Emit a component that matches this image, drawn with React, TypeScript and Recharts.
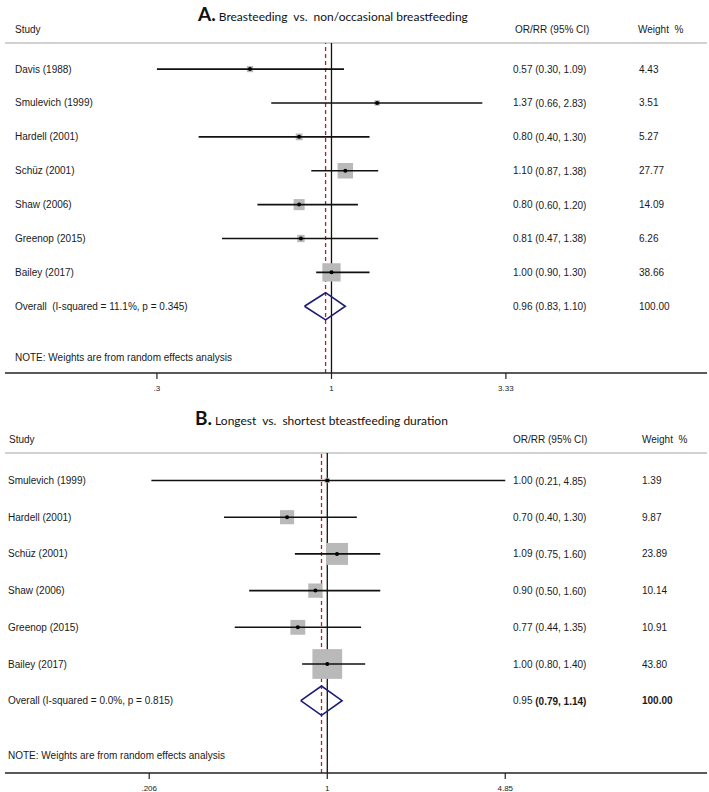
import React from 'react'
import { ScatterChart, Scatter, XAxis, YAxis, ReferenceLine } from 'recharts'

// Panel A: breastfeeding vs non/occasional breastfeeding
const studiesA = ['Davis (1988)', 'Smulevich (1999)', 'Hardell (2001)', 'Schüz (2001)', 'Shaw (2006)', 'Greenop (2015)', 'Bailey (2017)']
const estA = [0.57, 1.37, 0.8, 1.1, 0.8, 0.81, 1.0]
const lowA = [0.3, 0.66, 0.4, 0.87, 0.6, 0.47, 0.9]
const highA = [1.09, 2.83, 1.3, 1.38, 1.2, 1.38, 1.3]
const weightA = [4.43, 3.51, 5.27, 27.77, 14.09, 6.26, 38.66]
const overallA = [0.96, 0.83, 1.1]
const overallLabelA = 'Overall  (I-squared = 11.1%, p = 0.345)'
const ticksA = [0.3, 1, 3.33]
const tickLabelsA = ['.3', '1', '3.33']

// Panel B: longest vs shortest duration
const studiesB = ['Smulevich (1999)', 'Hardell (2001)', 'Schüz (2001)', 'Shaw (2006)', 'Greenop (2015)', 'Bailey (2017)']
const estB = [1.0, 0.7, 1.09, 0.9, 0.77, 1.0]
const lowB = [0.21, 0.4, 0.75, 0.5, 0.44, 0.8]
const highB = [4.85, 1.3, 1.6, 1.6, 1.35, 1.4]
const weightB = [1.39, 9.87, 23.89, 10.14, 10.91, 43.8]
const overallB = [0.95, 0.79, 1.14]
const overallLabelB = 'Overall (I-squared = 0.0%, p = 0.815)'
const ticksB = [0.206, 1, 4.85]
const tickLabelsB = ['.206', '1', '4.85']

const NOTE = 'NOTE: Weights are from random effects analysis'
const fmt = (v: number) => v.toFixed(2)
const FONT = 'Arial, "Liberation Sans", sans-serif'

type PanelProps = {
  studies: string[]
  est: number[]
  low: number[]
  high: number[]
  weight: number[]
  overall: number[]
  overallLabel: string
  ticks: number[]
  tickLabels: string[]
  xDomain: [number, number]
  yDomain: [number, number]
  height: number
  margin: { top: number; right: number; bottom: number; left: number }
  axisHeight: number
  boxScale: number
  labelX: number
  weightX: number
  boldOverall?: boolean
}

function ForestPanel(p: PanelProps) {
  const n = p.studies.length
  const points = p.studies.map((s, i) => ({ x: p.est[i], y: i, w: p.weight[i] }))
  const textRows = [
    ...p.studies.map((s, i) => ({
      x: 1, y: i, label: s,
      ci: `${fmt(p.est[i])} (${fmt(p.low[i])}, ${fmt(p.high[i])})`,
      w: fmt(p.weight[i]), overall: false,
    })),
    {
      x: 1, y: n, label: p.overallLabel,
      ci: `${fmt(p.overall[0])} (${fmt(p.overall[1])}, ${fmt(p.overall[2])})`,
      w: '100.00', overall: true,
    },
    { x: 1, y: n + 1.5, label: NOTE, ci: '', w: '', overall: false },
  ]
  const diamond = [
    { x: p.overall[1], y: n },
    { x: p.overall[0], y: n - 0.4 },
    { x: p.overall[2], y: n },
    { x: p.overall[0], y: n + 0.4 },
    { x: p.overall[1], y: n },
  ]

  return (
    <ScatterChart width={709} height={p.height} margin={p.margin}>
      <XAxis
        type="number"
        dataKey="x"
        scale="log"
        domain={p.xDomain}
        allowDataOverflow
        ticks={p.ticks}
        tickFormatter={(v) => p.tickLabels[p.ticks.indexOf(v)] ?? String(v)}
        height={p.axisHeight}
        tick={{ fontSize: 8, fill: '#222', fontFamily: FONT }}
        tickSize={6}
        tickMargin={6}
        axisLine={{ stroke: '#222', strokeWidth: 1.3 }}
        tickLine={{ stroke: '#222', strokeWidth: 1.2 }}
      />
      <YAxis type="number" dataKey="y" domain={p.yDomain} reversed hide allowDataOverflow />
      <ReferenceLine y={p.yDomain[0]} stroke="#d2d2d2" strokeWidth={2} />
      <ReferenceLine x={1} stroke="#111" strokeWidth={1.3} />
      <ReferenceLine x={p.overall[0]} stroke="#b22222" strokeWidth={1.3} strokeDasharray="4 3" />
      <Scatter
        data={points}
        isAnimationActive={false}
        shape={(props: any) => {
          const s = p.boxScale * Math.sqrt(props.payload.w)
          return <rect x={props.cx - s / 2} y={props.cy - s / 2} width={s} height={s} fill="#b9b9b9" />
        }}
      />
      {p.studies.map((s, i) => (
        <Scatter
          key={s}
          data={[{ x: p.low[i], y: i }, { x: p.high[i], y: i }]}
          isAnimationActive={false}
          line={{ stroke: '#111', strokeWidth: 1.6 }}
          shape={() => <g />}
        />
      ))}
      <Scatter
        data={points}
        isAnimationActive={false}
        shape={(props: any) => <circle cx={props.cx} cy={props.cy} r={2} fill="#000" />}
      />
      <Scatter
        data={diamond}
        isAnimationActive={false}
        line={{ stroke: '#1c1c78', strokeWidth: 1.6 }}
        shape={() => <g />}
      />
      <Scatter
        data={textRows}
        isAnimationActive={false}
        shape={(props: any) => {
          const r = props.payload
          const bold = p.boldOverall && r.overall
          const ciParts = r.ci.split(' (')
          return (
            <g fontFamily={FONT} fontSize={10} fill="#1a1a1a">
              <text x={p.labelX} y={props.cy} dominantBaseline="central" style={{ whiteSpace: 'pre' }}>{r.label}</text>
              {r.ci && (
                <text x={513} y={props.cy} dominantBaseline="central">
                  {ciParts[0]}
                  <tspan fontWeight={bold ? 'bold' : 'normal'}>{' (' + ciParts[1]}</tspan>
                </text>
              )}
              {r.w && (
                <text x={p.weightX} y={props.cy} dominantBaseline="central" fontWeight={bold ? 'bold' : 'normal'}>{r.w}</text>
              )}
            </g>
          )
        }}
      />
    </ScatterChart>
  )
}

const headStyle: React.CSSProperties = {
  position: 'absolute', fontFamily: FONT, fontSize: 10, lineHeight: '12px', color: '#1a1a1a', whiteSpace: 'pre',
}
const titleStyle: React.CSSProperties = {
  position: 'absolute', fontFamily: 'Lato, "Open Sans", sans-serif', fontSize: 12, color: '#111', whiteSpace: 'pre', lineHeight: '22px',
}

export default function App() {
  return (
    <div style={{ position: 'absolute', left: 0, top: 0, width: 709, height: 792, background: '#fff' }}>
      <div style={{ ...titleStyle, left: 198, top: 3 }}>
        <span style={{ fontSize: 19, fontWeight: 700 }}>A.</span> Breasteeding  vs.  non/occasional breastfeeding
      </div>
      <div style={{ ...headStyle, left: 15, top: 24 }}>Study</div>
      <div style={{ ...headStyle, left: 515, top: 24 }}>OR/RR (95% CI)</div>
      <div style={{ ...headStyle, left: 638, top: 24 }}>Weight  %</div>
      <div style={{ position: 'absolute', left: 0, top: 0 }}>
        <ForestPanel
          studies={studiesA} est={estA} low={lowA} high={highA} weight={weightA}
          overall={overallA} overallLabel={overallLabelA}
          ticks={ticksA} tickLabels={tickLabelsA}
          xDomain={[0.1052, 13.33]} yDomain={[-0.77, 8.97]}
          height={400} margin={{ top: 43, right: 2, bottom: 7, left: 5 }} axisHeight={20}
          boxScale={2.94} labelX={15} weightX={639}
        />
      </div>

      <div style={{ ...titleStyle, left: 195, top: 407 }}>
        <span style={{ fontSize: 19, fontWeight: 700 }}>B.</span> Longest  vs.  shortest bteastfeeding duration
      </div>
      <div style={{ ...headStyle, left: 9, top: 434 }}>Study</div>
      <div style={{ ...headStyle, left: 513, top: 434 }}>OR/RR (95% CI)</div>
      <div style={{ ...headStyle, left: 642, top: 434 }}>Weight  %</div>
      <div style={{ position: 'absolute', left: 0, top: 400 }}>
        <ForestPanel
          studies={studiesB} est={estB} low={lowB} high={highB} weight={weightB}
          overall={overallB} overallLabel={overallLabelB}
          ticks={ticksB} tickLabels={tickLabelsB}
          xDomain={[0.0573, 29.05]} yDomain={[-0.75, 7.97]}
          height={392} margin={{ top: 53, right: 2, bottom: 1, left: 5 }} axisHeight={18}
          boxScale={4.49} labelX={8} weightX={642} boldOverall
        />
      </div>
    </div>
  )
}
